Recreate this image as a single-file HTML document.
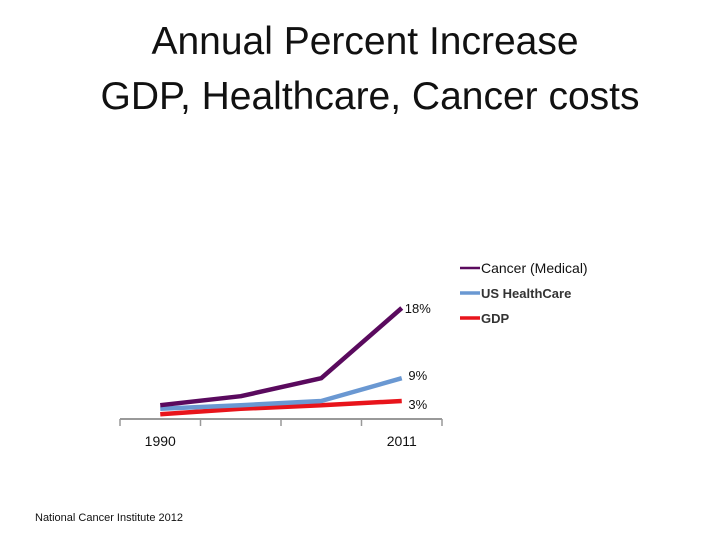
<!DOCTYPE html>
<html><head><meta charset="utf-8"><style>
html,body{margin:0;padding:0;background:#fff;}
#wrap{position:relative;width:720px;height:540px;overflow:hidden;font-family:"Liberation Sans",sans-serif;}
.title{position:absolute;left:0;width:740px;text-align:center;font-size:39px;color:#111;}
</style></head><body>
<div id="wrap">
<div class="title" style="top:20px;left:-5px;font-size:39px">Annual Percent Increase</div>
<div class="title" style="top:75px;left:0px;font-size:39px">GDP, Healthcare, Cancer costs</div>
<svg id="chart" width="720" height="540" style="position:absolute;left:0;top:0"></svg>
<div style="position:absolute;left:35px;top:512px;font-size:11px;color:#111;">National Cancer Institute 2012</div>
</div>
<script>
const categories=["1990","","","2011"];
const cancer=[2.3,3.8,6.8,18.5];
const health=[1.7,2.3,3.0,6.8];
const gdp=[0.8,1.7,2.3,3.0];
const endLabels=["18%","9%","3%"];
const seriesNames=["Cancer (Medical)","US HealthCare","GDP"];
const NS="http://www.w3.org/2000/svg";
const svg=document.getElementById('chart');
const x0=120,x1=442,yBase=419;
const xs=i=>x0+(x1-x0)/categories.length*(i+0.5);
const ys=v=>yBase-v*6;
function mk(t,a){const e=document.createElementNS(NS,t);for(const k in a)e.setAttribute(k,a[k]);svg.appendChild(e);return e;}
let ax=mk('line',{x1:x0,x2:x1,y1:yBase,y2:yBase,stroke:'#999','stroke-width':2});


for(let i=0;i<=categories.length;i++){const xx=x0+(x1-x0)/categories.length*i;
 const t=mk('line',{x1:xx,x2:xx,y1:yBase,y2:yBase+7,stroke:'#999','stroke-width':1.5});
 
 }
categories.forEach((c,i)=>{if(!c)return;const t=mk('text',{x:xs(i),y:446,'text-anchor':'middle','font-size':14,'font-family':'Liberation Sans, sans-serif',fill:'#111'});t.textContent=c;
 
 });
const series=[[gdp,'#e8141b'],[health,'#6a98d2'],[cancer,'#5a0a5e']];
series.forEach(([d,col],k)=>{const p=mk('polyline',{points:d.map((v,i)=>xs(i)+','+ys(v)).join(' '),fill:'none',stroke:col,'stroke-width':4.5,'stroke-linejoin':'round'});
 
 });
const labOff=[0,-3,3];
[[cancer,0],[health,1],[gdp,2]].forEach(([d,k])=>{const t=mk('text',{x:xs(3)+16,y:ys(d[3])+5+labOff[k],'text-anchor':'middle','font-size':13,'font-family':'Liberation Sans, sans-serif',fill:'#111'});t.textContent=endLabels[k];
 
 });
const legCols=['#5a0a5e','#6a98d2','#e8141b'];
seriesNames.forEach((n,k)=>{const y=268+k*25;
 const l=mk('line',{x1:460,x2:480,y1:y,y2:y,stroke:legCols[k],'stroke-width':k==0?2.5:3.5});
 
 
 const t=mk('text',{x:481,y:y+5,'font-size':k==0?14:13,'font-weight':k==0?'normal':'bold','font-family':'Liberation Sans, sans-serif',fill:k==0?'#111':'#333'});t.textContent=n;
 
 });
</script>
</body></html>
